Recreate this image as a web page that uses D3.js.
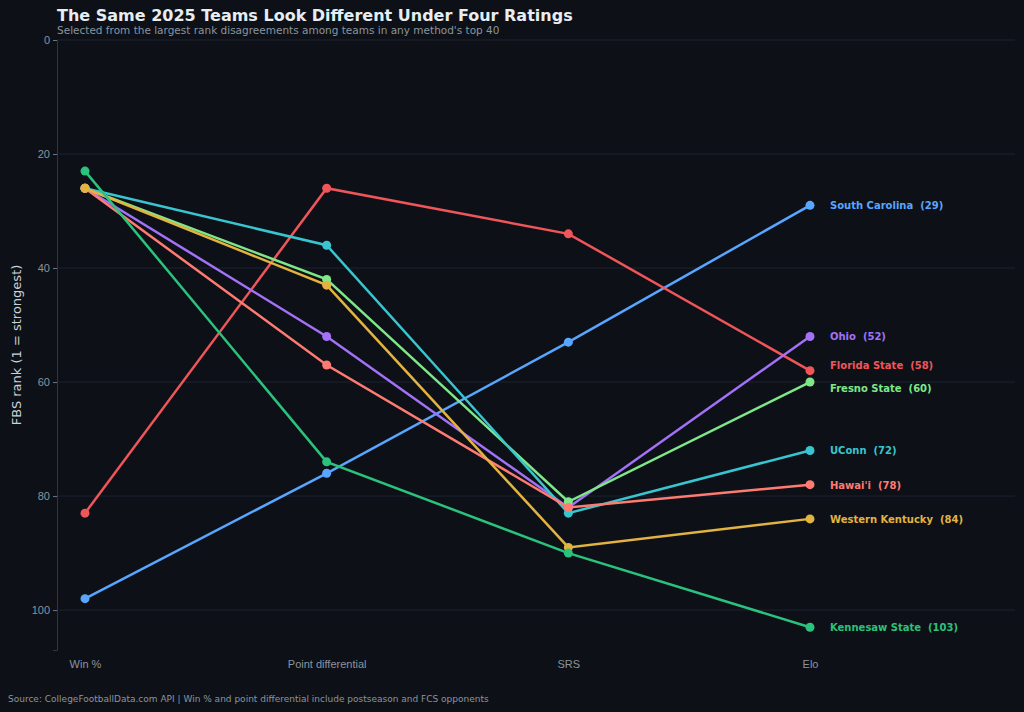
<!DOCTYPE html>
<html><head><meta charset="utf-8">
<script src="https://cdn.jsdelivr.net/npm/d3@7"></script>
<style>body{margin:0;background:#0d1117;}svg{display:block;font-family:"DejaVu Sans",sans-serif;}</style>
</head><body><svg id="chart" width="1024" height="712"></svg>
<script>
const methods = ['Win %', 'Point differential', 'SRS', 'Elo'];
const teams = ['South Carolina', 'Florida State', 'Ohio', 'Fresno State', 'UConn', "Hawai'i", 'Western Kentucky', 'Kennesaw State'];
const ranks = [
    [98, 76, 53, 29],
    [83, 26, 34, 58],
    [26, 52, 82, 52],
    [26, 42, 81, 60],
    [26, 36, 83, 72],
    [26, 57, 82, 78],
    [26, 43, 89, 84],
    [23, 74, 90, 103]
];
const colors = ['#58a6ff', '#f0555a', '#a371f7', '#7ee787', '#39c5cf', '#ff7b72', '#e3b341', '#2ac27c'];
const labelNudge = [0, -1, 0, 1, 0, 0, 0, 0];
const yTicks = [0, 20, 40, 60, 80, 100];

const svg = d3.select('#chart');
const x = d3.scalePoint().domain(methods).range([85, 810]);
const y = d3.scaleLinear().domain([0, 107]).range([40, 650]);

svg.append('g').selectAll('line').data(yTicks).enter().append('line')
    .attr('x1', 57).attr('x2', 1015).attr('y1', d => y(d)).attr('y2', d => y(d))
    .attr('stroke', '#1c2230').attr('stroke-width', 1);

const yAxis = svg.append('g').attr('transform', 'translate(57,0)')
    .call(d3.axisLeft(y).tickValues(yTicks).tickSize(4));
yAxis.select('.domain').attr('stroke', '#30363d');
yAxis.selectAll('line').attr('stroke', '#6e7681');
yAxis.selectAll('text').attr('fill', '#8b949e').attr('font-size', 11);

const xAxis = svg.append('g').attr('transform', 'translate(0,650)')
    .call(d3.axisBottom(x).tickSize(0).tickPadding(10));
xAxis.select('.domain').remove();
xAxis.selectAll('text').attr('fill', '#8b949e').attr('font-size', 11);

const line = d3.line().x((d, i) => x(methods[i])).y(d => y(d));
teams.forEach((t, k) => {
    const g = svg.append('g');
    g.append('path').datum(ranks[k]).attr('d', line).attr('fill', 'none')
        .attr('stroke', colors[k]).attr('stroke-width', 2.5);
    g.selectAll('circle').data(ranks[k]).enter().append('circle')
        .attr('cx', (d, i) => x(methods[i])).attr('cy', d => y(d)).attr('r', 4.5)
        .attr('fill', colors[k]);
    const last = ranks[k][3];
    g.append('text').attr('x', x('Elo') + 20).attr('y', y(last + labelNudge[k]) + 4)
        .attr('fill', colors[k]).attr('font-size', 10).attr('font-weight', 'bold')
        .attr('xml:space', 'preserve')
        .text(`${t}  (${last})`);
});

svg.append('text').attr('x', 57).attr('y', 21).attr('fill', '#e6edf3')
    .attr('font-size', 16).attr('font-weight', 'bold')
    .text('The Same 2025 Teams Look Different Under Four Ratings');
svg.append('text').attr('x', 57).attr('y', 34).attr('fill', '#8b949e').attr('font-size', 10.5)
    .text("Selected from the largest rank disagreements among teams in any method's top 40");
svg.append('text').attr('transform', 'translate(21,345) rotate(-90)').attr('text-anchor', 'middle')
    .attr('fill', '#c9d1d9').attr('font-size', 13).text('FBS rank (1 = strongest)');
svg.append('text').attr('x', 8).attr('y', 702).attr('fill', '#8b949e').attr('font-size', 9)
    .text('Source: CollegeFootballData.com API | Win % and point differential include postseason and FCS opponents');
</script></body></html>
